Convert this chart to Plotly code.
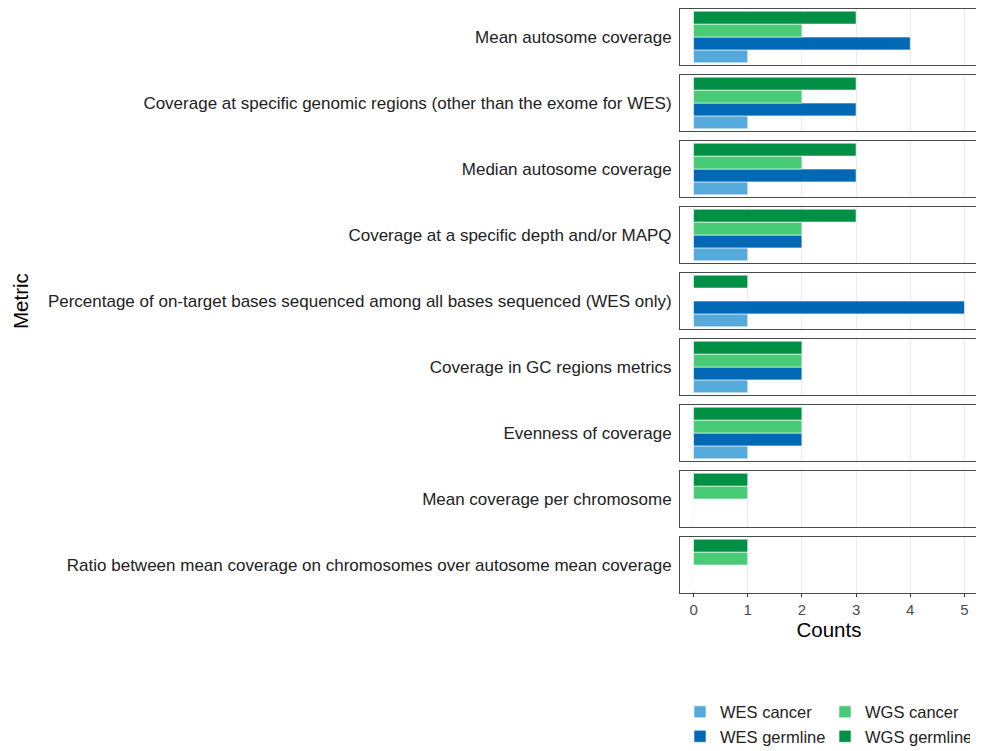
import plotly.graph_objects as go
from plotly.subplots import make_subplots

metrics = [
    "Mean autosome coverage",
    "Coverage at specific genomic regions (other than the exome for WES)",
    "Median autosome coverage",
    "Coverage at a specific depth and/or MAPQ",
    "Percentage of on-target bases sequenced among all bases sequenced (WES only)",
    "Coverage in GC regions metrics",
    "Evenness of coverage",
    "Mean coverage per chromosome",
    "Ratio between mean coverage on chromosomes over autosome mean coverage",
]

# counts per metric, same order as metrics
wes_cancer = [1, 1, 1, 1, 1, 1, 1, None, None]
wes_germline = [4, 3, 3, 2, 5, 2, 2, None, None]
wgs_cancer = [2, 2, 2, 2, None, 2, 2, 1, 1]
wgs_germline = [3, 3, 3, 3, 1, 2, 2, 1, 1]

series = [
    ("WES cancer", wes_cancer, "#56AADB", 1),
    ("WES germline", wes_germline, "#0068B5", 3),
    ("WGS cancer", wgs_cancer, "#47CB76", 2),
    ("WGS germline", wgs_germline, "#009045", 4),
]

n = len(metrics)
fig = make_subplots(rows=n, cols=1, shared_xaxes=True, vertical_spacing=10 / 584)

for i, m in enumerate(metrics):
    for name, vals, color, rank in series:
        v = vals[i]
        fig.add_trace(go.Bar(
            x=[v if v is not None else 0], y=[m], orientation="h",
            name=name, legendgroup=name, legendrank=rank,
            showlegend=(i == 0),
            marker=dict(color=color, line=dict(color="white", width=0.6)),
            hovertemplate=f"{name}: %{{x}}<extra></extra>",
        ), row=i + 1, col=1)
    fig.update_yaxes(
        range=[-0.52, 0.52], showgrid=False, ticks="", ticklabelstandoff=4,
        showline=True, mirror=True, linecolor="#4a4a4a", linewidth=1,
        tickfont=dict(size=17, color="#222222"),
        row=i + 1, col=1,
    )
    fig.update_xaxes(
        range=[-0.25, 5.25], dtick=1, showgrid=True, gridcolor="#EBEBEB", gridwidth=1,
        zeroline=False, showline=True, mirror=True, linecolor="#4a4a4a", linewidth=1,
        row=i + 1, col=1,
    )

fig.update_xaxes(
    ticks="outside", ticklen=3, tickcolor="#333333",
    tickfont=dict(size=15, color="#4D4D4D"),
    title=dict(text="Counts", font=dict(size=20.5, color="black"), standoff=3),
    row=n, col=1,
)

# page body has an 8px margin, so the figure is drawn at (8, 8)
fig.update_layout(
    barmode="group", bargap=0.04, bargroupgap=0,
    width=976, height=743,
    margin=dict(l=672, r=6, t=1, b=158, autoexpand=False),
    plot_bgcolor="white", paper_bgcolor="white",
    font=dict(family="Liberation Sans, Arial, sans-serif", color="#222222"),
    showlegend=True,
    legend=dict(
        orientation="h", x=0, xanchor="left", y=-0.174, yanchor="top",
        entrywidth=100, font=dict(size=16.5, color="#222222"),
        traceorder="normal", itemwidth=30,
    ),
    annotations=[dict(
        text="Metric", x=-(672 - 12) / 298, xref="paper", xanchor="center",
        y=0.5, yref="paper", showarrow=False,
        textangle=-90, font=dict(size=20.5, color="black"),
    )],
)

fig.write_html("out.html")
